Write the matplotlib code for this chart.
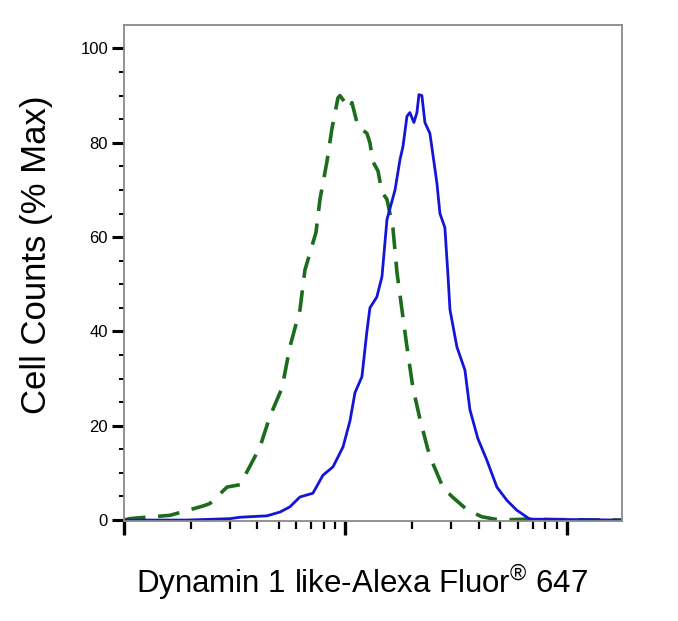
import matplotlib
matplotlib.use("Agg")
import matplotlib.pyplot as plt
from matplotlib.ticker import FixedLocator, NullFormatter

plt.rcParams['font.family'] = ['Liberation Sans', 'DejaVu Sans']
plt.rcParams['mathtext.fontset'] = 'custom'
plt.rcParams['mathtext.rm'] = 'Liberation Sans'

# isotype control (green dashed), fluorescence intensity vs % max
control_x = [100, 106, 118, 161, 228, 244, 292, 334, 371, 411, 456, 517, 561,
             623, 656, 736, 767, 825, 869, 925, 944, 1016, 1045, 1070, 1138,
             1250, 1290, 1331, 1403, 1462, 1540, 1638, 1709, 1800, 1896, 2018,
             2169, 2356, 2482, 2754, 3026, 3538, 4133, 4985, 6500, 9000, 17700]
control_y = [0, 0.3, 0.5, 1, 3, 3.5, 7, 7.5, 11.5, 15.5, 22, 28, 36.7,
             44.6, 53, 61, 68, 76, 83, 89.5, 90, 88, 87.3, 88.5, 83.5,
             82, 80, 76, 74, 69.5, 68, 62, 52.5, 44.6, 36.7, 28,
             21.5, 15, 12, 7, 5, 2.2, 0.7, 0, 0.2, 0.1, 0]

# Dynamin 1 like stained (blue solid)
stained_x = [100, 192, 301, 334, 442, 506, 561, 623, 713, 791, 879, 975, 1048,
             1104, 1187, 1250, 1290, 1386, 1462, 1540, 1675, 1763, 1819, 1896,
             1954, 2038, 2103, 2148, 2215, 2285, 2406, 2458, 2588, 2672, 2813,
             2904, 2966, 3188, 3465, 3650, 3963, 4353, 4830, 5358, 5940, 6803,
             17700]
stained_y = [0, 0, 0.3, 0.6, 0.9, 1.7, 2.8, 4.9, 5.7, 9.5, 11.3, 15.5, 21,
             27, 30.4, 40, 45, 47.3, 51.6, 63.7, 70, 76.4, 79.2, 85.6,
             86.4, 84.3, 86.4, 90.2, 90, 84.3, 82, 79, 71.5, 65, 62,
             52, 44.6, 36.7, 31.8, 23.4, 17.3, 12.7, 7, 4.2, 2.1, 0.2,
             0]

y_ticks = [0, 20, 40, 60, 80, 100]

fig = plt.figure(figsize=(6.78, 6.21), dpi=100)
ax = fig.add_axes([0.183, 0.161, 0.734, 0.799])

ax.plot(control_x, control_y, color='#1d6b1d', lw=2.6, linestyle=(0, (6, 3.5)))
ax.plot(stained_x, stained_y, color='#1515d8', lw=2.0)

ax.set_xscale('log')
ax.set_xlim(100, 10 ** 4.248)
ax.set_ylim(-0.2, 105)

ax.xaxis.set_major_locator(FixedLocator([100, 1000, 10000]))
ax.xaxis.set_minor_locator(FixedLocator([s * 10 ** d for d in (2, 3) for s in range(2, 10)]))
ax.xaxis.set_major_formatter(NullFormatter())
ax.xaxis.set_minor_formatter(NullFormatter())

ax.yaxis.set_major_locator(FixedLocator(y_ticks))
ax.yaxis.set_minor_locator(FixedLocator([v for v in range(5, 105, 5) if v % 20]))
ax.set_yticklabels([str(v) for v in y_ticks], fontsize=12)

ax.tick_params(axis='x', which='major', direction='out', length=10, width=2.4, color='black')
ax.tick_params(axis='x', which='minor', direction='out', length=6, width=1.6, color='black')
ax.tick_params(axis='y', which='major', direction='out', length=8.5, width=2.2, color='black', pad=3)
ax.tick_params(axis='y', which='minor', direction='out', length=3.5, width=1.4, color='black')

for s in ax.spines.values():
    s.set_color('#8a8a8a')
    s.set_linewidth(1.3)

ax.set_ylabel('Cell Counts (% Max)', fontsize=25)
ax.yaxis.set_label_coords(-0.143, 0.537)
ax.set_xlabel('Dynamin 1 like-Alexa Fluor$^{\u00ae}$ 647', fontsize=22.5)
ax.xaxis.set_label_coords(0.479, -0.083)

fig.savefig('out.png', dpi=100)
